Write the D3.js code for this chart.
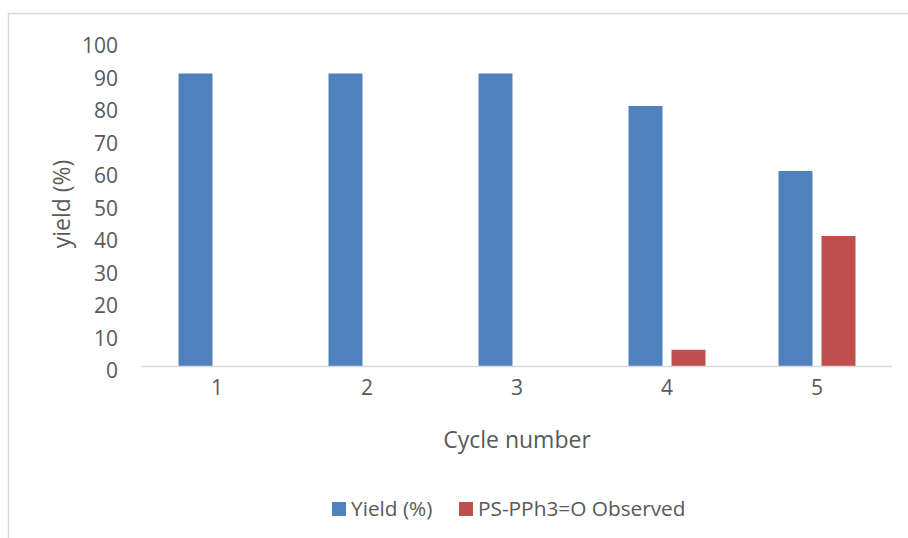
<!DOCTYPE html>
<html><head><meta charset="utf-8">
<script src="https://cdn.jsdelivr.net/npm/d3@7"></script>
<style>body{margin:0;background:#fff}svg{display:block}text{font-family:"Open Sans", sans-serif;fill:#595959}</style>
</head><body>
<svg id="c" width="908" height="538"></svg>
<script>
const categories = ["1","2","3","4","5"];
const seriesNames = ["Yield (%)", "PS-PPh3=O Observed"];
const yieldValues = [90, 90, 90, 80, 60];
const observedValues = [0, 0, 0, 5, 40];
const yTicks = [0,10,20,30,40,50,60,70,80,90,100];
const colors = ["#4f81bd", "#c0504d"];

(function(){
const svg = d3.select("#c");
const FF = "'Open Sans', sans-serif";
svg.append("path").attr("d","M8.5,538 V13.5 H908").attr("fill","none").attr("stroke","#d9d9d9").attr("stroke-width",1.5);

const pL=142, pR=892, pT=41, pB=366;
const x = d3.scaleBand().domain(categories).range([pL,pR]).paddingInner(0).paddingOuter(0);
const y = d3.scaleLinear().domain([0,100]).range([pB,pT]);
const bw = 34, gap = 9;
const xs = d3.scaleBand().domain(seriesNames).range([0, bw*2+gap]).paddingInner(gap/(bw+gap));

const data = categories.map((c,i)=>({c, vals:[yieldValues[i], observedValues[i]]}));
const g = svg.append("g");
data.forEach(d=>{
  d.vals.forEach((v,j)=>{
    if(v<=0) return;
    const cx = x(d.c) + x.bandwidth()/2 - (bw*2+gap)/2;
    g.append("rect").attr("x", cx + xs(seriesNames[j])).attr("width", xs.bandwidth())
      .attr("y", y(v)).attr("height", y(0)-y(v)).attr("fill", colors[j]);
  });
});
svg.append("line").attr("x1",pL).attr("x2",pR).attr("y1",pB+0.5).attr("y2",pB+0.5).attr("stroke","#d9d9d9").attr("stroke-width",1.5);

const ya = svg.append("g").attr("transform",`translate(118,0)`)
  .call(d3.axisLeft(y).tickValues(yTicks).tickSize(0).tickPadding(0));
ya.select(".domain").remove();
ya.selectAll("text").attr("font-size",21).attr("dy","0.55em").style("font-family",FF).attr("fill","#595959");

const xa = svg.append("g").attr("transform",`translate(0,${pB})`)
  .call(d3.axisBottom(x).tickSize(0).tickPadding(14));
xa.select(".domain").remove();
xa.selectAll("text").attr("font-size",21).style("font-family",FF).attr("fill","#595959");

svg.append("text").attr("transform","translate(70,204) rotate(-90)").attr("text-anchor","middle")
  .attr("font-size",23).text("yield (%)");
svg.append("text").attr("x",517).attr("y",448).attr("text-anchor","middle").attr("font-size",23).text("Cycle number");

const leg = svg.append("g");
const legX = [332, 459];
seriesNames.forEach((n,i)=>{
  leg.append("rect").attr("x",legX[i]).attr("y",502).attr("width",14).attr("height",14).attr("fill",colors[i]);
  leg.append("text").attr("x",legX[i]+19).attr("y",516).attr("font-size",20.8).text(n);
});
})();
</script>
</body></html>
